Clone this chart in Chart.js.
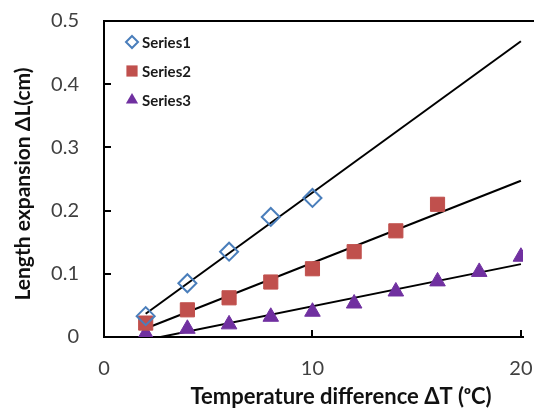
<!DOCTYPE html>
<html>
<head>
<meta charset="utf-8">
<script src="https://cdn.jsdelivr.net/npm/chart.js@4"></script>
<style>
  body { margin: 0; background: #fff; }
  #wrap { width: 534px; height: 417px; }
</style>
</head>
<body>
<div id="wrap"><canvas id="c" width="534" height="417"></canvas></div>
<script>
// data
const x1 = [2, 4, 6, 8, 10];
const y1 = [0.033, 0.085, 0.135, 0.19, 0.22];
const x2 = [2, 4, 6, 8, 10, 12, 14, 16];
const y2 = [0.022, 0.043, 0.062, 0.087, 0.108, 0.135, 0.168, 0.21];
const x3 = [2, 4, 6, 8, 10, 12, 14, 16, 18, 20];
const y3 = [0.005, 0.013, 0.02, 0.032, 0.04, 0.053, 0.072, 0.088, 0.103, 0.127];
const seriesNames = ['Series1', 'Series2', 'Series3'];
const xTicks = [0, 10, 20];
const yTicks = [0, 0.1, 0.2, 0.3, 0.4, 0.5];
const trendFrom = 2, trendTo = 20;
const xTitle = 'Temperature difference \u0394T (\u1d52C)';
const yTitle = 'Length expansion \u0394L(cm)';

function pts(xs, ys) {
    return xs.map((x, i) => ({x: x, y: ys[i]}));
}

// least squares line, drawn from trendFrom to trendTo
function trend(xs, ys) {
    const n = xs.length;
    const mx = xs.reduce((a, b) => a + b, 0) / n;
    const my = ys.reduce((a, b) => a + b, 0) / n;
    let sxy = 0, sxx = 0;
    for (let i = 0; i < n; i++) {
        sxy += (xs[i] - mx) * (ys[i] - my);
        sxx += (xs[i] - mx) * (xs[i] - mx);
    }
    const m = sxy / sxx, b = my - m * mx;
    return [{x: trendFrom, y: m * trendFrom + b}, {x: trendTo, y: m * trendTo + b}];
}

function trendSet(xs, ys) {
    return {
        type: 'line', data: trend(xs, ys), borderColor: '#000', borderWidth: 2,
        pointRadius: 0, showLine: true
    };
}

// top frame line and short tick marks pointing into the plot
const frame = {
    id: 'frame',
    afterDraw(chart) {
        const ctx = chart.ctx, a = chart.chartArea;
        ctx.save();
        ctx.fillStyle = '#000';
        ctx.fillRect(a.left - 1, a.top - 1, chart.width - a.left + 1, 2);
        yTicks.forEach(v => {
            const p = Math.round(chart.scales.y.getPixelForValue(v));
            ctx.fillRect(a.left, p - 1, 7, 2);
        });
        xTicks.forEach(v => {
            const p = Math.round(chart.scales.x.getPixelForValue(v));
            ctx.fillRect(p - 1, a.bottom - 7, 2, 7);
        });
        ctx.restore();
    }
};

function marker(ctx, style, x, y, r) {
    ctx.beginPath();
    if (style === 'rectRot') {
        ctx.moveTo(x, y - r); ctx.lineTo(x + r, y); ctx.lineTo(x, y + r); ctx.lineTo(x - r, y);
    } else if (style === 'rect') {
        ctx.rect(x - r * 0.7, y - r * 0.7, r * 1.4, r * 1.4);
    } else {
        ctx.moveTo(x, y - r); ctx.lineTo(x + r * 0.87, y + r * 0.5); ctx.lineTo(x - r * 0.87, y + r * 0.5);
    }
    ctx.closePath();
}

// axis titles and the legend box inside the plot
const labels = {
    id: 'labels',
    afterDraw(chart) {
        const ctx = chart.ctx, a = chart.chartArea;
        ctx.save();
        ctx.fillStyle = '#111';
        ctx.font = 'bold 22px Lato';
        ctx.textAlign = 'center';
        ctx.textBaseline = 'middle';
        ctx.fillText(xTitle, 341, 397);
        ctx.translate(23, 184);
        ctx.rotate(-Math.PI / 2);
        ctx.font = 'bold 21px Lato';
        ctx.fillText(yTitle, 0, 0);
        ctx.restore();

        ctx.save();
        ctx.textBaseline = 'middle';
        ctx.textAlign = 'left';
        for (let i = 0; i < seriesNames.length; i++) {
            const ds = chart.data.datasets[i];
            const lx = a.left + 28, ly = a.top + 21 + i * 29;
            marker(ctx, ds.pointStyle, lx, ly, ds.legendRadius);
            if (ds.pointStyle === 'rectRot') {
                ctx.strokeStyle = ds.borderColor;
                ctx.lineWidth = 2;
                ctx.stroke();
            } else {
                ctx.fillStyle = ds.backgroundColor;
                ctx.fill();
            }
            ctx.fillStyle = '#1a1a1a';
            ctx.font = 'bold 15px Lato';
            ctx.fillText(ds.label, lx + 10, ly + 1);
        }
        ctx.restore();
    }
};

new Chart(document.getElementById('c'), {
    type: 'scatter',
    data: {
        datasets: [
            {label: seriesNames[0], data: pts(x1, y1), pointStyle: 'rectRot', pointRadius: 9, legendRadius: 6,
             borderColor: '#4a7ebb', backgroundColor: 'rgba(0,0,0,0)', borderWidth: 2},
            {label: seriesNames[1], data: pts(x2, y2), pointStyle: 'rect', pointRadius: 10, legendRadius: 8,
             borderColor: '#c0504d', backgroundColor: '#c0504d', borderWidth: 1},
            {label: seriesNames[2], data: pts(x3, y3), pointStyle: 'triangle', pointRadius: 9, legendRadius: 7,
             borderColor: '#7030a0', backgroundColor: '#7030a0', borderWidth: 1},
            trendSet(x1, y1),
            trendSet(x2, y2),
            trendSet(x3, y3)
        ]
    },
    options: {
        responsive: false,
        animation: false,
        layout: {padding: {top: 21, right: 0, left: 0, bottom: 0}},
        plugins: {legend: {display: false}},
        scales: {
            x: {
                type: 'linear', min: 0, max: 20.1,
                afterBuildTicks: s => { s.ticks = xTicks.map(v => ({value: v})); },
                afterFit: s => { s.height = 80; s.paddingLeft = 0; s.paddingRight = 0; },
                grid: {display: false, drawTicks: false},
                border: {color: '#000', width: 2},
                ticks: {font: {family: 'Lato', size: 20}, color: '#404040', padding: 20}
            },
            y: {
                min: 0, max: 0.5,
                ticks: {stepSize: 0.1, font: {family: 'Lato', size: 20}, color: '#404040', padding: 25,
                        callback: v => v === 0 ? '0' : v.toFixed(1)},
                afterFit: s => { s.width = 104; s.paddingTop = 0; s.paddingBottom = 0; },
                grid: {display: false, drawTicks: false},
                border: {color: '#000', width: 2}
            }
        }
    },
    plugins: [frame, labels]
});
</script>
</body>
</html>
